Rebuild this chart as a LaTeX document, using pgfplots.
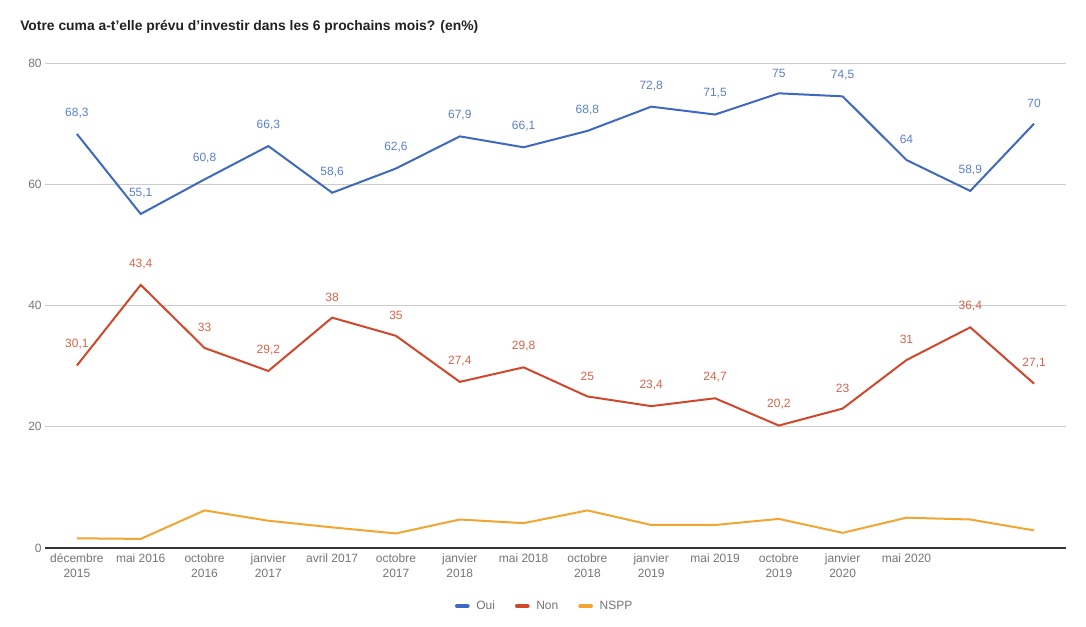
\documentclass[border=0pt]{standalone}
\usepackage{pgfplots}
\pgfplotsset{compat=1.18}
\usepackage{fontspec}
\setmainfont{Liberation Sans}
\definecolor{cOui}{HTML}{3D69C0}
\definecolor{cNon}{HTML}{D0472A}
\definecolor{cNspp}{HTML}{F2A531}
\definecolor{tickgray}{HTML}{757575}
\definecolor{gridgray}{HTML}{CCCCCC}
\begin{document}
\begin{tikzpicture}[x=1pt,y=1pt]
\begin{axis}[
  scale only axis,
  width=765.75pt, height=363.75pt,
  at={(0,0)}, anchor=south west,
  xmin=-0.5, xmax=15.5, ymin=0, ymax=80,
  xtick={0,...,13},
  xticklabels={{décembre\\2015},{mai 2016},{octobre\\2016},{janvier\\2017},{avril 2017},{octobre\\2017},{janvier\\2018},{mai 2018},{octobre\\2018},{janvier\\2019},{mai 2019},{octobre\\2019},{janvier\\2020},{mai 2020}},
  xticklabel style={align=center, font=\fontsize{9}{11.2}\selectfont, text=tickgray, yshift=-1pt},
  ytick={0,20,40,60,80},
  yticklabel style={font=\fontsize{9}{10}\selectfont, text=tickgray, xshift=1pt},
  /pgf/number format/assume math mode=true,
  major tick length=0pt,
  ymajorgrids, grid style={gridgray, line width=0.6pt},
  axis line style={draw=none},
  axis x line*=bottom,
  clip=false,
  legend columns=3,
  legend style={draw=none, at={(0.4897,-0.1196)}, anchor=center, font=\fontsize{9}{10}\selectfont, text=tickgray,
    /tikz/every odd column/.append style={column sep=3pt},
    /tikz/every even column/.append style={column sep=13pt}},
  legend image code/.code={\draw[line width=3pt, line cap=round] (-2pt,0pt) -- (6pt,0pt);},
  /pgf/number format/use comma,
  every node near coord/.append style={anchor=south, yshift=8pt, font=\fontsize{9}{10}\selectfont},
]
\draw[color=black!80, line width=0.8pt] (axis cs:-0.5,0) -- (axis cs:15.5,0);
\addplot[cOui, line width=1.5pt, nodes near coords, every node near coord/.append style={text=cOui!85!white}] coordinates {
(0,68.3)(1,55.1)(2,60.8)(3,66.3)(4,58.6)(5,62.6)(6,67.9)(7,66.1)(8,68.8)(9,72.8)(10,71.5)(11,75)(12,74.5)(13,64)(14,58.9)(15,70)};
\addlegendentry{Oui}
\addplot[cNon, line width=1.5pt, nodes near coords, every node near coord/.append style={text=cNon!85!white}] coordinates {
(0,30.1)(1,43.4)(2,33)(3,29.2)(4,38)(5,35)(6,27.4)(7,29.8)(8,25)(9,23.4)(10,24.7)(11,20.2)(12,23)(13,31)(14,36.4)(15,27.1)};
\addlegendentry{Non}
\addplot[cNspp, line width=1.5pt] coordinates {
(0,1.6)(1,1.5)(2,6.2)(3,4.5)(4,3.4)(5,2.4)(6,4.7)(7,4.1)(8,6.2)(9,3.8)(10,3.8)(11,4.8)(12,2.5)(13,5)(14,4.7)(15,2.9)};
\addlegendentry{NSPP}
\end{axis}
\node[anchor=west, inner sep=0pt, font=\bfseries\fontsize{10.4}{12}\selectfont, text=black!87] at (-18.75pt,390.75pt) {Votre cuma a-t'elle prévu d'investir dans les 6 prochains mois? (en\%)};
\path[use as bounding box] (-33.75pt,-58.5pt) rectangle (780.75pt,411pt);
\end{tikzpicture}
\end{document}
